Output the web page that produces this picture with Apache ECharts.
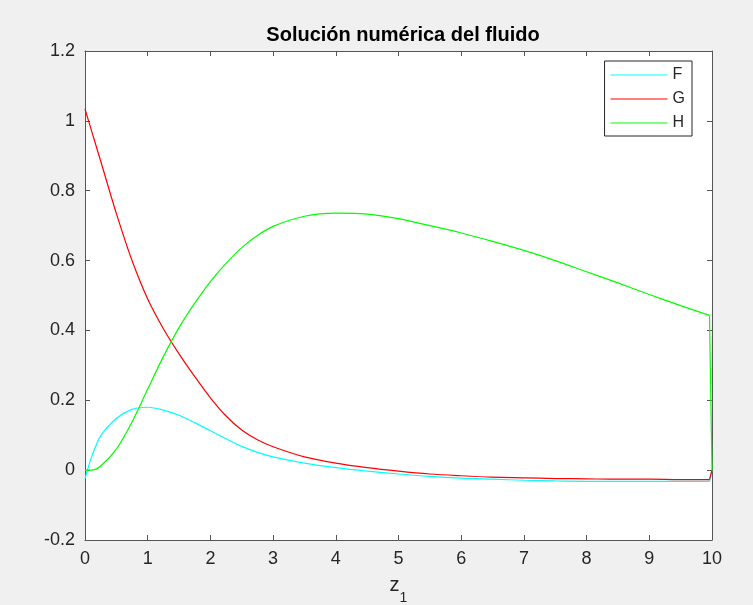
<!DOCTYPE html>
<html>
<head>
<meta charset="utf-8">
<script src="https://cdn.jsdelivr.net/npm/echarts@6/dist/echarts.min.js"></script>
<style>
html,body{margin:0;padding:0;background:#f0f0f0;}
#chart{width:753px;height:605px;}
</style>
</head>
<body>
<div id="chart"></div>
<script>
// Data
var xValues = [0, 0.1, 0.25, 0.5, 0.75, 1, 1.25, 1.5, 1.75, 2, 2.25, 2.5, 2.75, 3, 3.5, 4, 4.5, 5, 5.5, 6, 6.5, 7, 7.5, 8, 8.5, 9, 9.5, 9.96, 10];
var seriesF = [-0.025, 0.035, 0.098, 0.148, 0.174, 0.18, 0.172, 0.157, 0.136, 0.113, 0.09, 0.068, 0.051, 0.038, 0.02, 0.007, -0.003, -0.011, -0.018, -0.023, -0.026, -0.029, -0.031, -0.032, -0.032, -0.032, -0.032, -0.032, 0.0];
var seriesG = [1.034, 0.974, 0.885, 0.735, 0.6, 0.49, 0.405, 0.333, 0.268, 0.207, 0.155, 0.115, 0.087, 0.067, 0.038, 0.02, 0.007, -0.003, -0.011, -0.016, -0.02, -0.022, -0.024, -0.025, -0.026, -0.026, -0.027, -0.027, 0.0];
var seriesH = [0, 0.0, 0.012, 0.06, 0.138, 0.232, 0.325, 0.408, 0.478, 0.54, 0.592, 0.637, 0.672, 0.698, 0.727, 0.736, 0.733, 0.72, 0.70, 0.679, 0.655, 0.629, 0.60, 0.568, 0.536, 0.503, 0.471, 0.443, 0.0];
var seriesNames = ['F', 'G', 'H'];
var xTicks = {min: 0, max: 10, interval: 1};
var yTicks = {min: -0.2, max: 1.2, interval: 0.2};
var titleText = 'Solución numérica del fluido';

function pairs(xs, ys) { return xs.map(function (x, i) { return [x, ys[i]]; }); }

var axisColor = '#262626';
var lineCol = '#555555';
var font = 'Liberation Sans, Arial, Helvetica, sans-serif';

var chart = echarts.init(document.getElementById('chart'));
var baseX = {
  type: 'value', min: xTicks.min, max: xTicks.max, interval: xTicks.interval,
  splitLine: {show: false},
  axisLine: {show: true, onZero: false, lineStyle: {color: lineCol, width: 1}},
  axisTick: {show: true, inside: true, length: 5, lineStyle: {color: lineCol}}
};
var baseY = {
  type: 'value', min: yTicks.min, max: yTicks.max, interval: yTicks.interval,
  splitLine: {show: false},
  axisLine: {show: true, onZero: false, lineStyle: {color: lineCol, width: 1}},
  axisTick: {show: true, inside: true, length: 5, lineStyle: {color: lineCol}}
};
function mk(base, extra) { return Object.assign({}, JSON.parse(JSON.stringify(base)), extra); }

var colors = ['#00ffff', '#ff0000', '#00ff00'];
var datas = [seriesF, seriesG, seriesH];
var n = xValues.length;

var series = [];
seriesNames.forEach(function (name, i) {
  var all = pairs(xValues, datas[i]);
  // smooth body of the curve
  series.push({
    name: name, type: 'line', data: all.slice(0, n - 1),
    symbol: 'none', showSymbol: false, smooth: 0.3,
    lineStyle: {color: colors[i], width: 1.2}, itemStyle: {color: colors[i]}
  });
  // abrupt final jump at the right boundary (straight segment)
  series.push({
    name: name, type: 'line', data: all.slice(n - 2),
    symbol: 'none', showSymbol: false, smooth: false,
    lineStyle: {color: colors[i], width: 1.2}, itemStyle: {color: colors[i]}
  });
});

chart.setOption({
  backgroundColor: '#f0f0f0',
  animation: false,
  title: {
    text: titleText, left: 398, top: 20, textAlign: 'center',
    textStyle: {fontFamily: font, fontSize: 20, fontWeight: 'bold', color: '#000'}
  },
  grid: {left: 85, right: 41, top: 51, bottom: 65, show: true, backgroundColor: '#ffffff', borderWidth: 0,
    containLabel: false, outerBoundsMode: 'none'},
  legend: {
    data: seriesNames.map(function (nm) { return {name: nm, icon: 'rect'}; }),
    orient: 'vertical', right: 61, top: 61,
    itemWidth: 57, itemHeight: 1.2, itemGap: 8,
    padding: [6, 7, 5, 6],
    backgroundColor: '#ffffff', borderColor: axisColor, borderWidth: 1, borderRadius: 0,
    textStyle: {fontFamily: font, fontSize: 16, color: axisColor, lineHeight: 16}
  },
  xAxis: [
    mk(baseX, {
      position: 'bottom',
      axisLabel: {show: true, margin: 10, fontFamily: font, fontSize: 18, color: axisColor},
      name: '{z|z}{s|1}', nameLocation: 'middle', nameGap: 35,
      nameTextStyle: {rich: {
        z: {fontFamily: font, fontSize: 20, color: axisColor, verticalAlign: 'bottom', padding: [0, 0, 6, 0]},
        s: {fontFamily: font, fontSize: 14, color: axisColor, verticalAlign: 'bottom', padding: [0, 0, -4, 0]}
      }}
    }),
    mk(baseX, {position: 'top', axisLabel: {show: false}})
  ],
  yAxis: [
    mk(baseY, {
      position: 'left',
      axisLabel: {show: true, margin: 10, fontFamily: font, fontSize: 18, color: axisColor,
        formatter: function (v) { return String(Number(v.toFixed(1))); }}
    }),
    mk(baseY, {position: 'right', axisLabel: {show: false}})
  ],
  series: series
});
</script>
</body>
</html>
